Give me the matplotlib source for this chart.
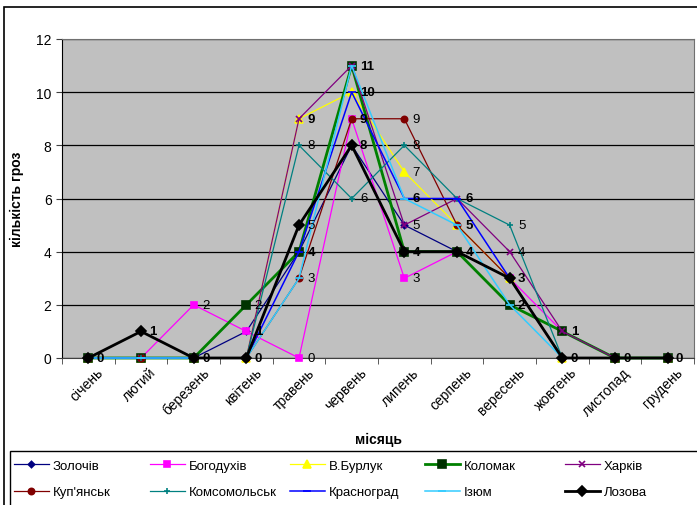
import matplotlib.pyplot as plt
import numpy as np
from matplotlib.patches import Rectangle
from matplotlib.transforms import ScaledTranslation

plt.rcParams['font.family'] = ['Liberation Sans', 'DejaVu Sans']

months = ['січень', 'лютий', 'березень', 'квітень', 'травень', 'червень',
          'липень', 'серпень', 'вересень', 'жовтень', 'листопад', 'грудень']

zolochiv     = [0, 0, 0, 1, 4, 8, 5, 4, 3, 0, 0, 0]
bohodukhiv   = [0, 0, 2, 1, 0, 9, 3, 4, 3, 1, 0, 0]
v_burluk     = [0, 0, 0, 0, 9, 10, 7, 5, 3, 0, 0, 0]
kolomak      = [0, 0, 0, 2, 4, 11, 4, 4, 2, 1, 0, 0]
kharkiv      = [0, 0, 0, 0, 9, 11, 5, 6, 4, 1, 0, 0]
kupiansk     = [0, 0, 0, 0, 3, 9, 9, 5, 3, 0, 0, 0]
komsomolsk   = [0, 0, 0, 0, 8, 6, 8, 6, 5, 0, 0, 0]
krasnohrad   = [0, 0, 0, 0, 4, 10, 6, 6, 3, 0, 0, 0]
izium        = [0, 0, 0, 0, 3, 11, 6, 5, 2, 0, 0, 0]
lozova       = [0, 1, 0, 0, 5, 8, 4, 4, 3, 0, 0, 0]

# name, values, colour, line width, marker, marker size, marker face
series = [
    ('Золочів', zolochiv, '#000080', 0.9, 'D', 3.2, '#000080'),
    ('Богодухів', bohodukhiv, '#FF00FF', 0.9, 's', 4.5, '#FF00FF'),
    ('В.Бурлук', v_burluk, '#FFFF00', 0.9, '^', 5.5, '#FFFF00'),
    ('Коломак', kolomak, '#008000', 2.0, 's', 5.5, '#003300'),
    ('Харків', kharkiv, '#800080', 0.9, 'x', 4, '#800080'),
    ("Куп'янськ", kupiansk, '#800000', 0.9, 'o', 4.5, '#800000'),
    ('Комсомольськ', komsomolsk, '#008080', 0.9, '+', 4.5, '#008080'),
    ('Красноград', krasnohrad, '#0000FF', 1.1, '_', 5.5, '#0000FF'),
    ('Ізюм', izium, '#33CCFF', 1.1, '_', 5.5, '#33CCFF'),
    ('Лозова', lozova, '#000000', 2.0, 'D', 5.5, '#000000'),
]

# which points carry a value label: (series, month index, weight)
labels = [
    ('Лозова', [0, 1, 2, 3, 5, 6, 7, 8, 9, 10, 11], 'bold'),
    ('Лозова', [4], 'normal'),
    ('Богодухів', [2, 4, 6], 'normal'),
    ('Коломак', [3], 'normal'),
    ('Коломак', [4, 8, 9], 'bold'),
    ('Золочів', [3], 'bold'),
    ('Харків', [4], 'bold'),
    ('Харків', [6, 8], 'normal'),
    ("Куп'янськ", [4, 6], 'normal'),
    ("Куп'янськ", [5, 7], 'bold'),
    ('Комсомольськ', [4, 5, 6, 8], 'normal'),
    ('В.Бурлук', [5], 'bold'),
    ('В.Бурлук', [6], 'normal'),
    ('Ізюм', [5, 6], 'bold'),
    ('Красноград', [7], 'bold'),
]

W, H = 697, 506
fig = plt.figure(figsize=(6.97, 5.06), dpi=100)
fig.patches.append(Rectangle((4 / W, -0.01), 1.0, 1 - 8 / H + 0.01,
                             transform=fig.transFigure, fill=False,
                             edgecolor='black', lw=1.2))

ax = fig.add_axes([62 / W, 1 - 359 / H, (694 - 62) / W, (359 - 40) / H])
ax.set_facecolor('#C0C0C0')
x = np.arange(len(months))

lookup = {}
handles = []
for name, vals, c, lw, m, ms, mf in series:
    h, = ax.plot(x, vals, color=c, lw=lw, marker=m, markersize=ms,
                 markerfacecolor=mf, markeredgecolor=mf, markeredgewidth=1.2,
                 label=name, zorder=3, clip_on=False)
    handles.append(h)
    lookup[name] = vals

for name, idx, weight in labels:
    vals = lookup[name]
    for i in idx:
        ax.annotate(str(vals[i]), (x[i], vals[i]), xytext=(6, 0),
                    textcoords='offset points', va='center', ha='left',
                    fontsize=9.5, fontweight=weight, color='black', zorder=5)

ax.set_xlim(-0.5, 11.5)
ax.set_ylim(0, 12)
ax.set_yticks(range(0, 13, 2))
ax.yaxis.grid(True, color='black', lw=0.9)
ax.set_axisbelow(True)
ax.set_xticks(x)
ax.set_xticklabels(months, rotation=45, ha='right', va='top',
                   rotation_mode='anchor', fontsize=10)
ax.tick_params(axis='x', length=0, pad=5)
shift = ScaledTranslation(8 / 100, 0, fig.dpi_scale_trans)
for t in ax.get_xticklabels():
    t.set_transform(t.get_transform() + shift)
ax.set_xticks(np.arange(-0.5, 12, 1), minor=True)
ax.tick_params(axis='x', which='minor', length=4, direction='out', color='#404040')
ax.tick_params(axis='y', length=4, direction='out', labelsize=10, color='#404040')
for s in ax.spines.values():
    s.set_color('#707070')
ax.spines['left'].set_color('black')
ax.spines['bottom'].set_color('#404040')

ax.set_xlabel('місяць', fontsize=10, fontweight='bold', labelpad=10)
ax.set_ylabel('кількість гроз', fontsize=10, fontweight='bold', labelpad=9)

# legend: frame plus five columns of two entries each
fig.patches.append(Rectangle((10 / W, -0.01), 1.0, 1 - 452 / H + 0.01,
                             transform=fig.transFigure, fill=False,
                             edgecolor='black', lw=1.0))
col_x = [9, 145, 285, 420, 560]
for k, cx in enumerate(col_x):
    lg = fig.legend([handles[k], handles[k + 5]], [series[k][0], series[k + 5][0]],
                    loc='upper left', bbox_to_anchor=(cx / W, 1 - 455 / H),
                    frameon=False, fontsize=9.5, handlelength=2.6,
                    handletextpad=0.3, borderaxespad=0, borderpad=0.4,
                    labelspacing=1.1)

fig.savefig('out.png', dpi=100)
